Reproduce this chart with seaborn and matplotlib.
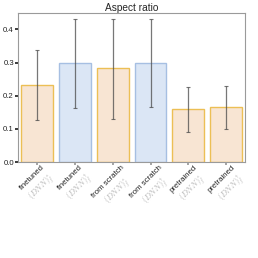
import matplotlib
matplotlib.use("Agg")
import matplotlib.pyplot as plt
import seaborn as sns
import numpy as np
import pandas as pd

sns.set_theme(style="white")
plt.rcParams['font.family'] = ['Liberation Sans', 'DejaVu Sans']
plt.rcParams['mathtext.fontset'] = 'cm'

names = ["finetuned", "finetuned", "from scratch", "from scratch", "pretrained", "pretrained"]
subnames = ["$(DNN)^{*}_{f}$", "$(DNN)^{\\dagger}_{f}$", "$(DNN)^{*}_{f}$",
            "$(DNN)^{\\dagger}_{f}$", "$(DNN)^{*}_{f}$", "$(DNN)^{\\dagger}_{f}$"]
categories = [f"{a} {b}" for a, b in zip(names, subnames)]
groups = ["a", "b", "a", "b", "a", "a"]
values = [0.232, 0.299, 0.283, 0.299, 0.160, 0.166]
err_low = [0.126, 0.163, 0.131, 0.165, 0.092, 0.101]
err_high = [0.337, 0.432, 0.432, 0.432, 0.225, 0.229]

df = pd.DataFrame({"cat": categories, "val": values, "grp": groups})

fig = plt.figure(figsize=(2.58, 2.58), dpi=100)
ax = fig.add_axes([0.07, 0.372, 0.88, 0.578])

face = {"a": "#f8e5d3", "b": "#dbe6f5"}
edge = {"a": "#ecbf55", "b": "#a6bfe2"}
sns.barplot(data=df, x="cat", y="val", hue="grp", palette=face, dodge=False,
            width=0.84, legend=False, ax=ax, linewidth=1.0, saturation=1)
for bar in ax.patches:
    i = int(round(bar.get_x() + bar.get_width() / 2))
    bar.set_edgecolor(edge[groups[i]])
x = np.arange(len(values))
vals = np.array(values)
yerr = np.vstack([vals - np.array(err_low), np.array(err_high) - vals])
ax.errorbar(x, vals, yerr=yerr, fmt="none", ecolor="#4a4a4a", alpha=0.75,
            elinewidth=0.9, capsize=1.5, capthick=0.8)

ax.set_xlim(-0.5, 5.5)
ax.set_ylim(0, 0.45)
ax.set_yticks([0.0, 0.1, 0.2, 0.3, 0.4])
ax.set_xlabel("")
ax.set_ylabel("")
ax.set_title("Aspect ratio", fontsize=7.3, pad=1.5)
ax.tick_params(axis="y", labelsize=5.6, length=2, pad=1, left=True, colors="#222222")
ax.tick_params(axis="x", length=2, bottom=True, color="#999999")
ax.set_xticks(x)
ax.set_xticklabels([""] * len(x))
for s in ax.spines.values():
    s.set_color("#9a9a9a")
    s.set_linewidth(0.8)

# two-line rotated tick labels (dark name, grey math line), centred under each tick
renderer = fig.canvas.get_renderer()
c = 0.7071
d = 12.5
thick = 20.0
for i in range(len(x)):
    t1 = ax.annotate(names[i], xy=(x[i], 0), xycoords=("data", "axes fraction"),
                     xytext=(0, 0), textcoords="offset pixels", fontsize=5.6,
                     color="#222222", rotation=45, rotation_mode="anchor",
                     ha="center", va="center")
    t2 = ax.annotate(subnames[i], xy=(x[i], 0), xycoords=("data", "axes fraction"),
                     xytext=(0, 0), textcoords="offset pixels", fontsize=5.9,
                     color="#b3b3b3", rotation=45, rotation_mode="anchor",
                     ha="center", va="center")
    t1.set_rotation(0); t2.set_rotation(0)
    w1 = t1.get_window_extent(renderer).width
    w2 = t2.get_window_extent(renderer).width
    t1.set_rotation(45); t2.set_rotation(45)
    L = max(w1, w2)
    cy = -(2 + c * (L + thick) / 2)
    t1.set_position((-d / 2 * c, cy + d / 2 * c))
    t2.set_position((d / 2 * c, cy - d / 2 * c))

fig.savefig("out.png", dpi=100)
